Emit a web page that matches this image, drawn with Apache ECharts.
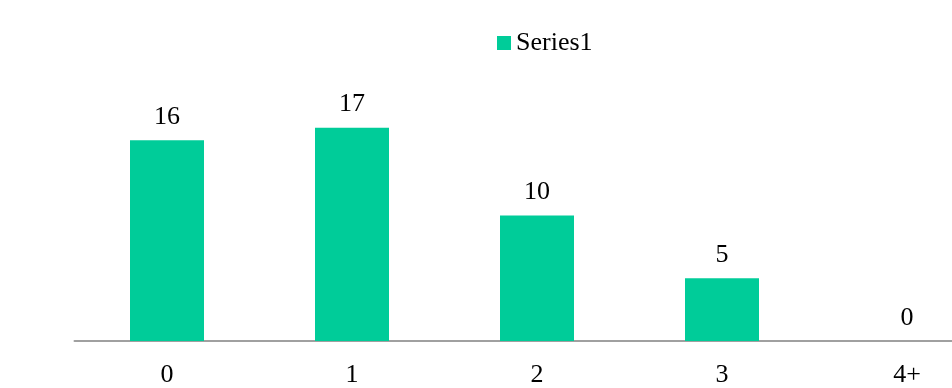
<!DOCTYPE html>
<html>
<head>
<meta charset="utf-8">
<script src="https://cdn.jsdelivr.net/npm/echarts@6/dist/echarts.min.js"></script>
<style>html,body{margin:0;padding:0;background:#fff;overflow:hidden;}#wrap{width:952px;height:388px;overflow:hidden;}#c{width:1000px;height:388px;}</style>
</head>
<body>
<div id="wrap"><div id="c"></div></div>
<script>
var categories = ['0', '1', '2', '3', '4+'];
var seriesName = 'Series1';
var values = [16, 17, 10, 5, 0];

var chart = echarts.init(document.getElementById('c'), null, {renderer: 'canvas'});
var font = 'Liberation Serif, Times New Roman, serif';
chart.setOption({
  animation: false,
  backgroundColor: '#ffffff',
  legend: {
    data: [seriesName],
    left: 492,
    top: 25,
    itemWidth: 14,
    itemHeight: 14,
    itemGap: 5,
    icon: 'rect',
    textStyle: {fontFamily: font, fontSize: 26, color: '#000'}
  },
  grid: {left: 74.5, top: 90, right: 0.5, bottom: 46, containLabel: false},
  xAxis: {
    type: 'category',
    data: categories,
    axisLine: {show: true, lineStyle: {color: '#A0A0A0', width: 2}},
    axisTick: {show: false},
    axisLabel: {fontFamily: font, fontSize: 26, color: '#000', margin: 21}
  },
  yAxis: {
    type: 'value',
    min: 0,
    max: 20,
    show: false,
    splitLine: {show: false}
  },
  series: [{
    name: seriesName,
    type: 'bar',
    data: values,
    barWidth: 74,
    itemStyle: {color: '#00CC99'},
    label: {
      show: true,
      position: 'top',
      distance: 10,
      fontFamily: font,
      fontSize: 26,
      color: '#000'
    }
  }]
});
</script>
</body>
</html>
